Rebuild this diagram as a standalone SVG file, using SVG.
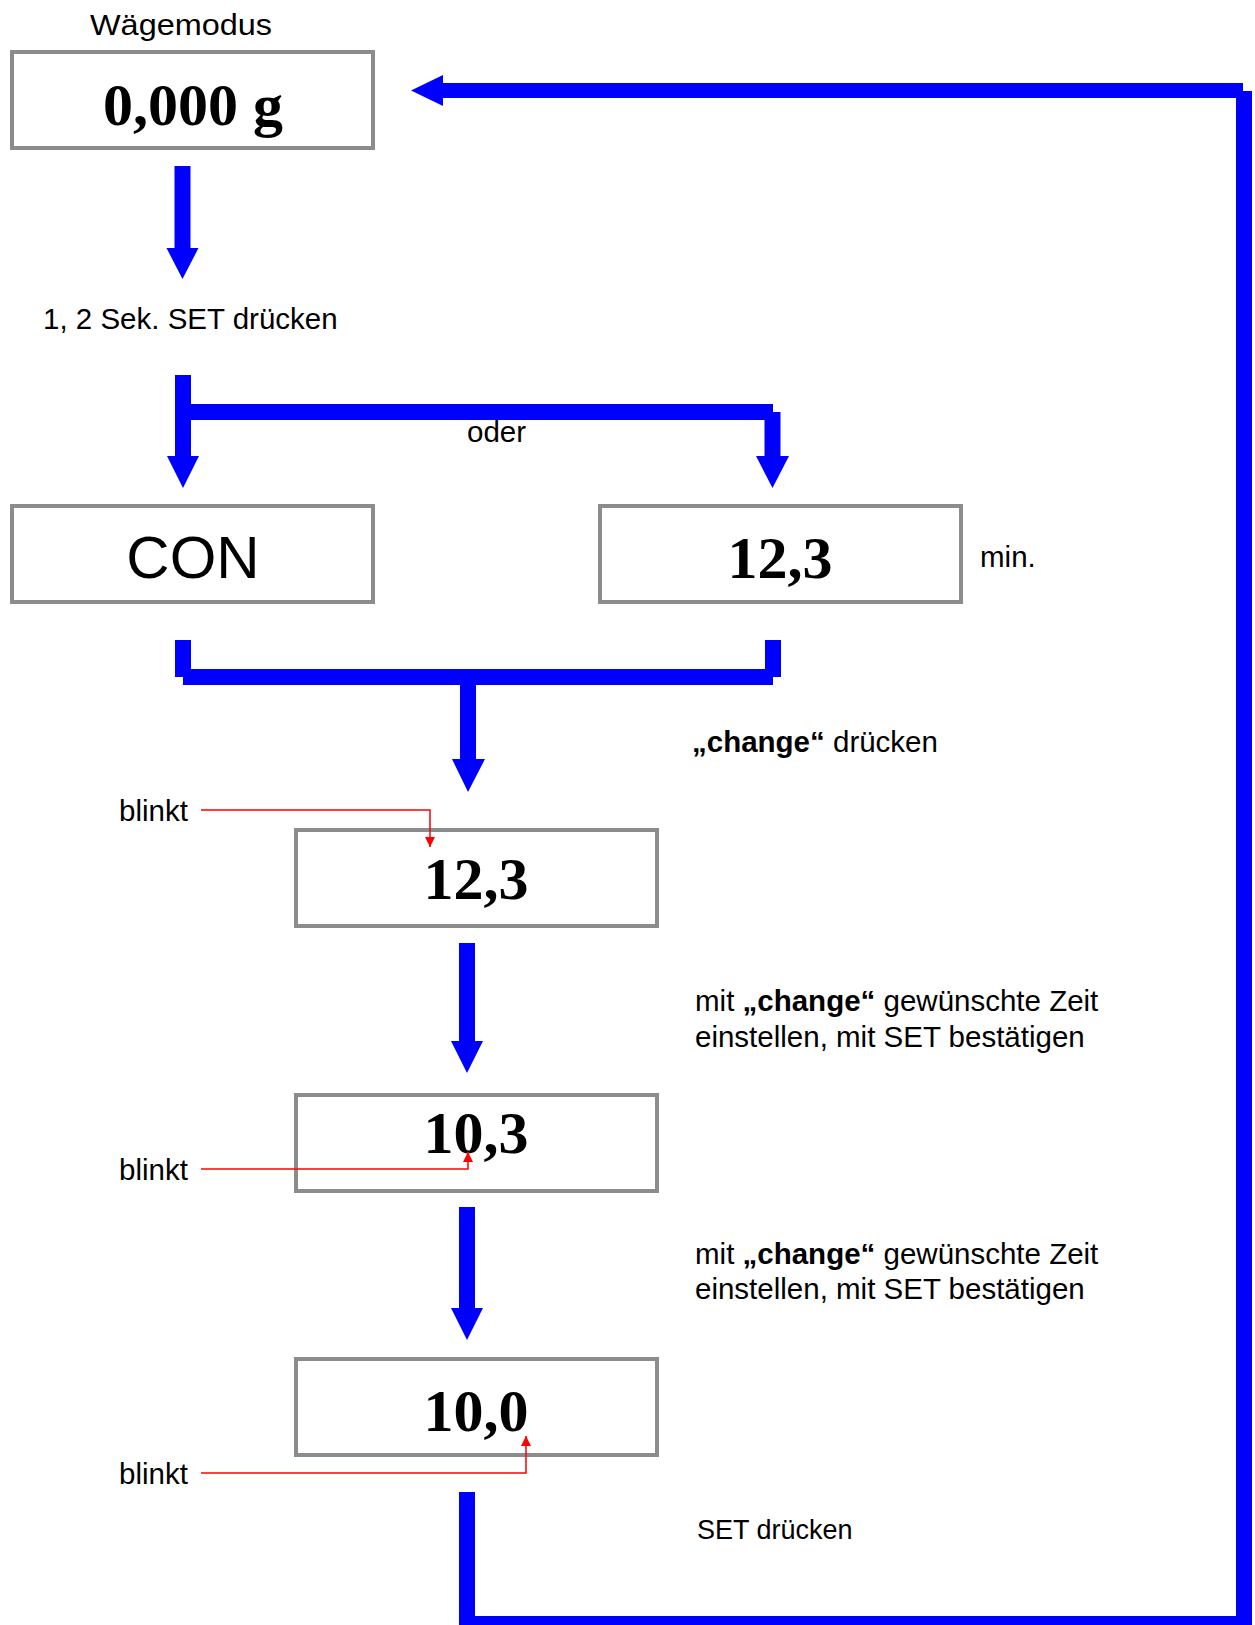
<svg xmlns="http://www.w3.org/2000/svg" width="1255" height="1625" viewBox="0 0 1255 1625">
  <style>
    .box { fill: #ffffff; stroke: #8c8c8c; stroke-width: 4; }
    .val { font-family: "Liberation Serif", "Times New Roman", serif; font-weight: bold; font-size: 60px; fill: #000; text-anchor: middle; }
    .lbl { font-family: "Liberation Sans", Arial, sans-serif; font-size: 29.5px; fill: #000; }
    .big { font-size: 60px; text-anchor: middle; }
    .small { font-size: 27px; }
    .b { font-weight: bold; }
    .flow { fill: #0000ff; }
    .hint { fill: none; stroke: #ff0000; stroke-width: 1.5; }
  </style>
  <defs>
    <marker id="redhead" markerUnits="userSpaceOnUse" markerWidth="11" markerHeight="10" refX="10" refY="5" orient="auto">
      <path d="M0,0 L10,5 L0,10 z" fill="#ff0000"/>
    </marker>
  </defs>

  <rect width="1255" height="1625" fill="#ffffff"/>

  <g id="weighing">
    <text class="lbl" x="90" y="35" style="font-size:30px" textLength="182" lengthAdjust="spacingAndGlyphs">Wägemodus</text>
    <rect class="box" x="12" y="52" width="361" height="96"/>
    <text class="val" x="193" y="125">0,000 g</text>
  </g>

  <g id="step-set">
    <text class="lbl" x="43" y="329">1, 2 Sek. SET drücken</text>
  </g>

  <g id="step-or">
    <text class="lbl" x="467" y="442">oder</text>
  </g>

  <g id="node-con">
    <rect class="box" x="12" y="506" width="361" height="96"/>
    <text class="lbl big" x="193" y="578">CON</text>
  </g>

  <g id="node-time">
    <rect class="box" x="600" y="506" width="361" height="96"/>
    <text class="val" x="780" y="578">12,3</text>
    <text class="lbl" x="980" y="567">min.</text>
  </g>

  <g id="step-change">
    <text class="lbl" x="692" y="752"><tspan class="b">„change“</tspan> drücken</text>
  </g>

  <g id="node-blink1">
    <text class="lbl" x="119" y="821">blinkt</text>
    <rect class="box" x="296" y="830" width="361" height="96"/>
    <text class="val" x="476" y="899">12,3</text>
  </g>

  <g id="step-adjust1">
    <text class="lbl" x="695" y="1011">mit <tspan class="b">„change“</tspan> gewünschte Zeit</text>
    <text class="lbl" x="695" y="1047">einstellen, mit SET bestätigen</text>
  </g>

  <g id="node-blink2">
    <rect class="box" x="296" y="1095" width="361" height="96"/>
    <text class="val" x="476" y="1153">10,3</text>
    <text class="lbl" x="119" y="1180">blinkt</text>
  </g>

  <g id="step-adjust2">
    <text class="lbl" x="695" y="1264">mit <tspan class="b">„change“</tspan> gewünschte Zeit</text>
    <text class="lbl" x="695" y="1299">einstellen, mit SET bestätigen</text>
  </g>

  <g id="node-blink3">
    <rect class="box" x="296" y="1359" width="361" height="96"/>
    <text class="val" x="476" y="1431">10,0</text>
    <text class="lbl" x="119" y="1484">blinkt</text>
  </g>

  <g id="step-confirm">
    <text class="lbl small" x="697" y="1539">SET drücken</text>
  </g>

  <!-- blue flow arrows and red pointers, drawn over the boxes -->
  <g id="connectors">
    <!-- weighing mode -> long press SET -->
    <polygon class="flow" points="174.5,166 190.5,166 190.5,248 198.5,248 182.5,279 166.5,248 174.5,248"/>
    <!-- split: CON or time -->
    <polygon class="flow" points="175,375 191,375 191,456 199,456 183,488 167,456 175,456"/>
    <rect class="flow" x="183" y="404" width="590" height="16"/>
    <polygon class="flow" points="764.5,412 780.5,412 780.5,456 789,456 772.5,488 756,456 764.5,456"/>
    <!-- merge: change pressed -->
    <rect class="flow" x="175" y="640" width="16" height="37"/>
    <rect class="flow" x="765" y="640" width="16" height="37"/>
    <rect class="flow" x="183" y="669" width="590" height="16"/>
    <polygon class="flow" points="460,677 476,677 476,759 485,759 468,792 452,759 460,759"/>
    <!-- 12,3 -> 10,3 -->
    <polygon class="flow" points="459,943 475,943 475,1041 483,1041 467,1073 451,1041 459,1041"/>
    <!-- 10,3 -> 10,0 -->
    <polygon class="flow" points="459,1207 475,1207 475,1308 483,1308 467,1340 451,1308 459,1308"/>
    <!-- SET: back to weighing mode -->
    <rect class="flow" x="459" y="1492" width="16" height="140"/>
    <rect class="flow" x="459" y="1616" width="793" height="16"/>
    <rect class="flow" x="1236" y="91" width="16" height="1541"/>
    <rect class="flow" x="441" y="83" width="802" height="15"/>
    <polygon class="flow" points="411,90.5 443,75 443,106"/>

    <!-- red pointers to the blinking digit -->
    <polyline class="hint" points="201,810 430,810 430,847" marker-end="url(#redhead)"/>
    <polyline class="hint" points="201,1169 468,1169 468,1152" marker-end="url(#redhead)"/>
    <polyline class="hint" points="201,1473 526,1473 526,1436" marker-end="url(#redhead)"/>
  </g>
</svg>
